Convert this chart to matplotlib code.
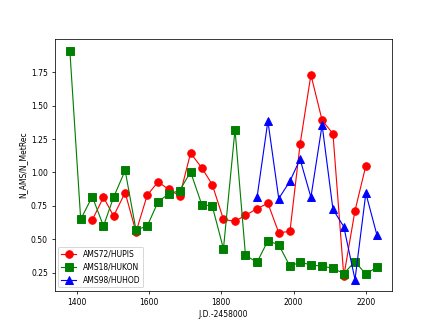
import matplotlib
matplotlib.use("Agg")
import matplotlib.pyplot as plt

# AMS18/HUKON
jd_hukon = [1381, 1411, 1443, 1474, 1502, 1534, 1564, 1595, 1625, 1654,
            1685, 1715, 1746, 1775, 1806, 1838, 1867, 1899, 1929, 1959,
            1990, 2018, 2048, 2079, 2109, 2139, 2170, 2200, 2231]
r_hukon = [1.91, 0.65, 0.82, 0.60, 0.815, 1.015, 0.57, 0.60, 0.78, 0.84,
           0.865, 1.005, 0.76, 0.75, 0.43, 1.32, 0.38, 0.33, 0.49, 0.46,
           0.30, 0.33, 0.31, 0.30, 0.285, 0.245, 0.335, 0.24, 0.295]

# AMS72/HUPIS
jd_hupis = [1443, 1474, 1502, 1534, 1564, 1595, 1625, 1654, 1685, 1715,
            1746, 1775, 1806, 1837, 1867, 1899, 1929, 1959, 1990, 2018,
            2048, 2079, 2109, 2139, 2170, 2200]
r_hupis = [0.645, 0.815, 0.675, 0.85, 0.555, 0.83, 0.93, 0.875, 0.825, 1.145,
           1.035, 0.91, 0.65, 0.635, 0.68, 0.73, 0.77, 0.55, 0.56, 1.21,
           1.73, 1.39, 1.29, 0.225, 0.715, 1.05]

# AMS98/HUHOD
jd_huhod = [1899, 1929, 1959, 1990, 2018, 2048, 2079, 2109, 2139, 2170,
            2200, 2231]
r_huhod = [0.815, 1.385, 0.805, 0.935, 1.10, 0.815, 1.355, 0.725, 0.595, 0.20,
           0.845, 0.53]

fig = plt.figure(figsize=(6.4, 4.8), dpi=68.125)
ax = fig.add_subplot(111)

ax.plot(jd_hupis, r_hupis, "ro-", markersize=8, linewidth=1.2, label="AMS72/HUPIS")
ax.plot(jd_hukon, r_hukon, "gs-", markersize=8, linewidth=1.2, label="AMS18/HUKON")
ax.plot(jd_huhod, r_huhod, "b^-", markersize=8, linewidth=1.2, label="AMS98/HUHOD")

ax.set_xlabel("J.D.-2458000", fontsize=8)
ax.set_ylabel("N_AMS/N_MetRec", fontsize=8)
ax.tick_params(labelsize=8)
ax.legend(loc="lower left", fontsize=8)

fig.savefig("out.png", dpi=68.125)
